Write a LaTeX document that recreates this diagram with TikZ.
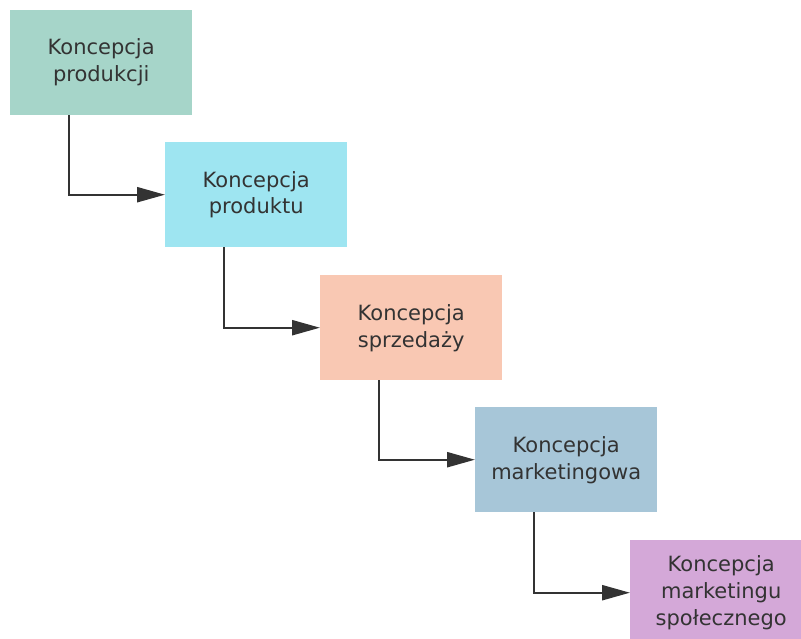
\documentclass[tikz,border=0pt]{standalone}
\usepackage{fontspec}
\setmainfont{DejaVu Sans}
\usetikzlibrary{arrows.meta}
\definecolor{txt}{HTML}{333333}
\definecolor{cA}{HTML}{A6D5C9}
\definecolor{cB}{HTML}{9EE5F1}
\definecolor{cC}{HTML}{F9C8B3}
\definecolor{cD}{HTML}{A7C6D8}
\definecolor{cE}{HTML}{D4A8D8}
\tikzset{
  stage/.style={anchor=north west, minimum width=182pt, minimum height=105pt, inner sep=0pt,
    align=center, text=txt, font=\fontsize{21}{27}\selectfont},
  conn/.style={draw=txt, line width=2.4pt, -{Triangle[length=28pt,width=15pt]}}
}
\begin{document}
\begin{tikzpicture}[x=1pt,y=-1pt]
\clip (0,0) rectangle (801,638);
\node[stage, fill=cA] (a) at (10,10) {Koncepcja\\produkcji};
\node[stage, fill=cB] (b) at (165,142) {Koncepcja\\produktu};
\node[stage, fill=cC] (c) at (320,275) {Koncepcja\\sprzedaży};
\node[stage, fill=cD] (d) at (475,407) {Koncepcja\\marketingowa};
\node[stage, fill=cE] (e) at (630,540) {Koncepcja\\marketingu\\społecznego};
\draw[conn] ([xshift=59pt]a.south west) |- (b.west);
\draw[conn] ([xshift=59pt]b.south west) |- (c.west);
\draw[conn] ([xshift=59pt]c.south west) |- (d.west);
\draw[conn] ([xshift=59pt]d.south west) |- (e.west);
\end{tikzpicture}
\end{document}
